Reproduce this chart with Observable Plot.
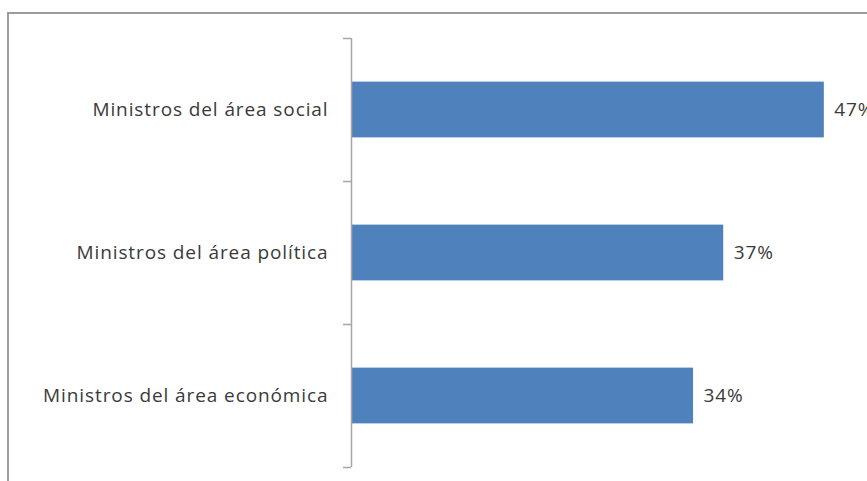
<!DOCTYPE html>
<html>
<head>
<meta charset="utf-8">
<script src="https://cdn.jsdelivr.net/npm/d3@7"></script>
<script src="https://cdn.jsdelivr.net/npm/@observablehq/plot@0.6"></script>
<style>
  html, body { margin: 0; padding: 0; background: #fff; overflow: hidden; }
  #wrap { position: relative; width: 867px; height: 481px; overflow: hidden; }
  #frame { position: absolute; left: 7px; top: 12px; width: 900px; height: 520px;
           border: 2px solid #9c9c9c; box-sizing: border-box; }
  #chart { position: absolute; left: 0; top: 0; }
  #chart text { letter-spacing: 0.9px; }
</style>
</head>
<body>
<div id="wrap">
  <div id="frame"></div>
  <div id="chart"></div>
</div>
<script>
const categories = ["Ministros del área social", "Ministros del área política", "Ministros del área económica"];
const values = [47, 37, 34];
const boundaries = [0, 1, 2, 3];

const data = categories.map((c, i) => ({category: c, value: values[i], i}));

const chart = Plot.plot({
  width: 867,
  height: 481,
  marginLeft: 351,
  marginRight: 13,
  marginTop: 38,
  marginBottom: 14,
  style: {fontFamily: "'Open Sans', sans-serif", background: "transparent", color: "#404040"},
  x: {domain: [0, 50], axis: null},
  y: {domain: [0, 3], reverse: true, axis: null},
  marks: [
    Plot.rectX(data, {x1: 0, x2: "value", y1: d => d.i + 0.305, y2: d => d.i + 0.695, fill: "#4F81BD"}),
    Plot.ruleX([0], {stroke: "#a6a6a6", strokeWidth: 1.5}),
    Plot.axisY({ticks: boundaries, tickFormat: () => "", tickSize: 8, stroke: "#a6a6a6", strokeWidth: 1.5}),
    Plot.axisY({ticks: categories.map((c, i) => i + 0.5), tickFormat: v => categories[Math.floor(v)], tickSize: 0, tickPadding: 23, fontSize: 19, fill: "#3a3a3a"}),
    Plot.text(data, {x: "value", y: d => d.i + 0.5, text: d => d.value + "%", textAnchor: "start", dx: 10, fontSize: 19, fill: "#3a3a3a"})
  ]
});
document.getElementById("chart").appendChild(chart);
</script>
</body>
</html>
